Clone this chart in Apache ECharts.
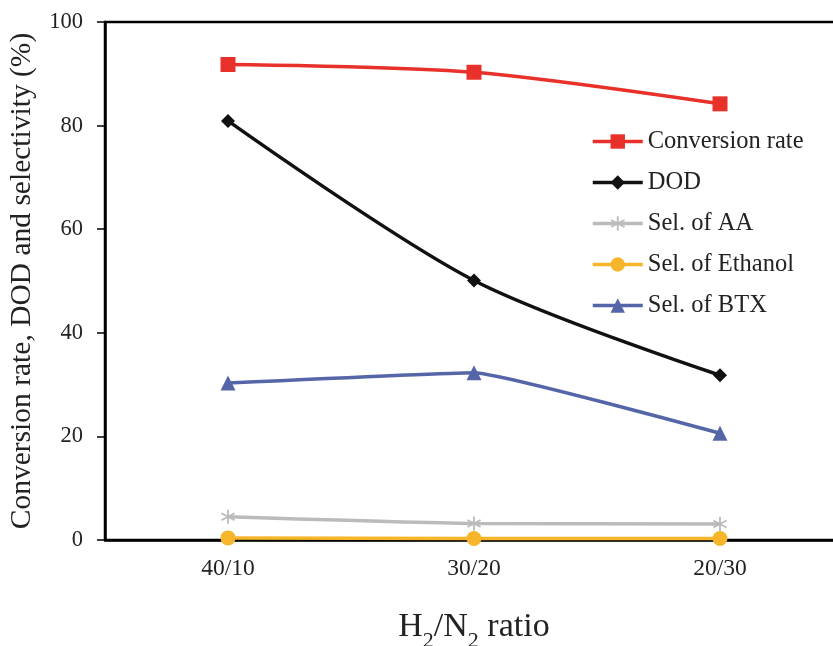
<!DOCTYPE html>
<html><head><meta charset="utf-8">
<script src="https://cdn.jsdelivr.net/npm/echarts@6/dist/echarts.min.js"></script>
<style>html,body{margin:0;padding:0;background:#fff;}#c{width:833px;height:646px;}</style>
</head><body><div id="c"></div>
<script>
const categories = ['40/10', '30/20', '20/30'];
const conversionRate = [91.8, 90.3, 84.2];
const dod = [80.9, 50.1, 31.8];
const selAA = [4.5, 3.2, 3.1];
const selEthanol = [0.4, 0.3, 0.3];
const selBTX = [30.3, 32.3, 20.6];
const yTicks = [0, 20, 40, 60, 80, 100];

const FONT = '"Liberation Serif","Times New Roman",serif';
const asterisk = 'path://M-1.2,-10 L1.2,-10 L1.2,10 L-1.2,10 Z M8.06,-6.04 L9.26,-3.96 L-8.06,6.04 L-9.26,3.96 Z M-9.26,-3.96 L-8.06,-6.04 L9.26,3.96 L8.06,6.04 Z';

const chart = echarts.init(document.getElementById('c'), null, {renderer: 'canvas'});
function mk(name, data, color, symbol, size, smooth) {
  return {
    name, type: 'line', data, smooth: smooth,
    symbol, symbolSize: size,
    lineStyle: {color, width: 3.5},
    itemStyle: {color, borderWidth: 0},
    z: 5
  };
}
chart.setOption({
  animation: false,
  backgroundColor: '#fff',
  grid: {left: 105, top: 22, right: -10, bottom: 106, outerBoundsMode: 'none', containLabel: false,
    show: true, borderColor: '#000', borderWidth: 2.5, backgroundColor: 'transparent'},
  legend: {
    orient: 'vertical', left: 591, top: 129, padding: 0,
    itemWidth: 50, itemHeight: 18, itemGap: 16,
    lineStyle: {width: 3.5},
    textStyle: {fontFamily: FONT, fontSize: 24.5, color: '#222'},
    data: ['Conversion rate', 'DOD', 'Sel. of AA', 'Sel. of Ethanol', 'Sel. of BTX']
  },
  xAxis: {
    type: 'category', data: categories, boundaryGap: true,
    axisLine: {lineStyle: {color: '#000', width: 2.5}},
    axisTick: {show: false},
    axisLabel: {fontFamily: FONT, fontSize: 23.5, color: '#222', margin: 17},
    name: '{n|H}{s|2}{n|/N}{s|2}{n| ratio}',
    nameLocation: 'middle', nameGap: 70,
    nameTextStyle: {
      rich: {
        n: {fontFamily: FONT, fontSize: 34, color: '#222', verticalAlign: 'bottom', padding: [0, 0, 8, 0]},
        s: {fontFamily: FONT, fontSize: 22, color: '#222', verticalAlign: 'bottom'}
      }
    }
  },
  yAxis: {
    type: 'value', min: 0, max: 100, interval: 20,
    axisLine: {show: true, lineStyle: {color: '#000', width: 2.5}},
    axisTick: {show: true, inside: false, length: 8, lineStyle: {color: '#000', width: 1.5}},
    splitLine: {show: false},
    axisLabel: {fontFamily: FONT, fontSize: 22.5, color: '#222', margin: 22,
      formatter: v => yTicks.includes(v) ? String(v) : ''},
    name: 'Conversion rate, DOD and selectivity (%)',
    nameLocation: 'middle', nameRotate: 90, nameGap: 68,
    nameTextStyle: {fontFamily: FONT, fontSize: 29.5, color: '#222'}
  },
  series: [
    mk('Conversion rate', conversionRate, '#E8312A', 'rect', 15, 0.3),
    mk('DOD', dod, '#111111', 'diamond', 14, 0.3),
    mk('Sel. of AA', selAA, '#BBBBBB', asterisk, 14, 0.2),
    mk('Sel. of Ethanol', selEthanol, '#F7B52A', 'circle', 15, 0.2),
    mk('Sel. of BTX', selBTX, '#5566A8', 'triangle', 15, 0.1)
  ]
});
</script></body></html>
